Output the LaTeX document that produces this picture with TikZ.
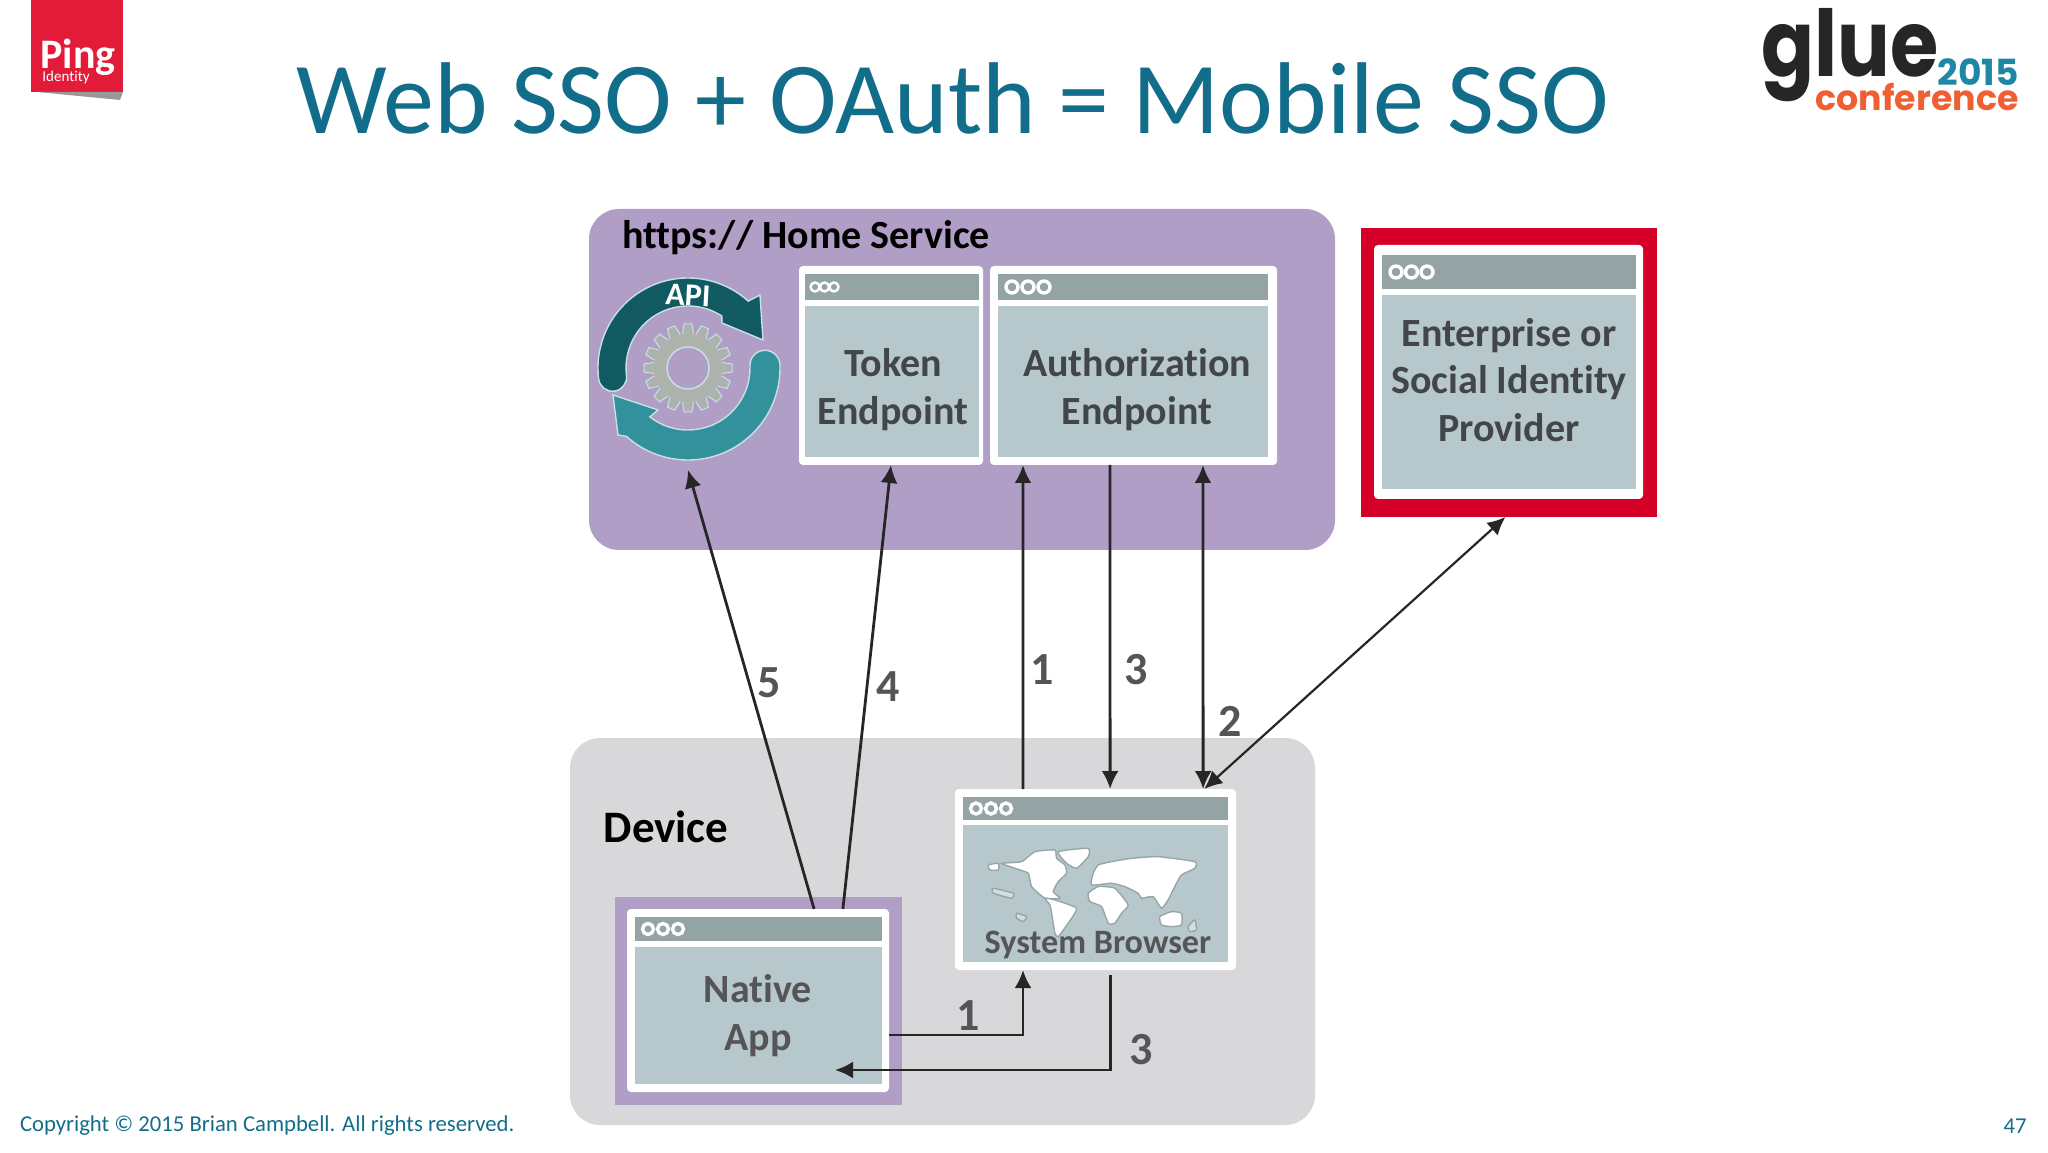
\documentclass[tikz,border=0pt]{standalone}
\usepackage{fontspec}
\setmainfont[Ligatures=CommonOff]{Carlito}
\newfontfamily\logofont{Poppins}
\usetikzlibrary{calc}
\usetikzlibrary{arrows.meta}
\tikzset{>={Latex[width=8.5pt,length=9pt]}}
\definecolor{titleblue}{RGB}{18,109,138}
\definecolor{homepurple}{RGB}{176,158,198}
\definecolor{devicegrey}{RGB}{216,215,218}
\definecolor{winbody}{RGB}{182,200,203}
\definecolor{winbar}{RGB}{148,163,163}
\definecolor{wintextgrey}{RGB}{66,70,74}
\definecolor{numgrey}{RGB}{85,85,88}
\definecolor{idpred}{RGB}{213,0,40}
\definecolor{pingred}{RGB}{226,28,56}
\definecolor{apidark}{RGB}{18,90,98}
\definecolor{apiteal}{RGB}{50,145,155}
\definecolor{apiedge}{RGB}{200,226,228}
\definecolor{geargrey}{RGB}{172,178,172}
\definecolor{mapedge}{RGB}{150,166,168}
\definecolor{gluered}{RGB}{240,95,50}
\definecolor{glueblue}{RGB}{30,135,165}
\tikzset{
  plain/.style={inner sep=0pt, outer sep=0pt},
  area/.style={plain, rounded corners=15pt},
  frame/.style={plain, fill=white, rounded corners=2pt},
  bar/.style={plain, fill=winbar},
  body/.style={plain, fill=winbody},
  windot/.style={fill=winbar, draw=white, line width=1.7pt},
  wintext/.style={plain, align=center, text=wintextgrey, font=\fontsize{20}{23.7}\selectfont\bfseries},
  num/.style={plain, text=numgrey, font=\fontsize{23}{24}\selectfont\bfseries},
  head/.style={plain, text=black, font=\fontsize{20}{22}\selectfont\bfseries},
  conn/.style={line width=1.4pt, draw=black!85},
  foot/.style={plain, text=titleblue, font=\fontsize{11.35}{13}\selectfont},
  mapland/.style={fill=white, draw=mapedge, line width=0.7pt},
  mapisle/.style={fill=winbody!60!white, draw=mapedge, line width=0.7pt}
}
\begin{document}
\begin{tikzpicture}[x=0.5pt, y=0.5pt]
  \useasboundingbox (0,0) rectangle (2048,1152);
  \node[plain, text=titleblue, font=\fontsize{51}{54}\selectfont] (title) at (953,1054) {Web SSO + OAuth = Mobile SSO};
  \node[plain, fill=pingred, minimum width=46pt, minimum height=46pt] (ping) at (77,1106) {};
  \fill[black!40] ($(ping.south west)+(6,0)$) -- ($(ping.south east)$) -- ++(-3,-8) -- cycle;
  \node[plain, text=white, font=\fontsize{21}{22}\selectfont\bfseries] (pingName) at (78,1095) {Ping};
  \node[plain, text=white, font=\fontsize{7.5}{8}\selectfont] (pingSub) at (66,1074) {Identity};
  \node[plain, text=black!85, xscale=0.85, font=\logofont\fontsize{46}{47}\selectfont\bfseries] (glue) at (1850,1097) {glue};
  \node[plain, text=glueblue, font=\logofont\fontsize{18}{19}\selectfont\bfseries] (glueYear) at (1978,1080) {2015};
  \node[plain, text=gluered, font=\logofont\fontsize{17.4}{18}\selectfont\bfseries] (glueConf) at (1917,1055) {conference};

  \node[area, fill=homepurple, minimum width=373pt, minimum height=170.5pt] (home) at (962,772.5) {};
  \node[area, fill=devicegrey, minimum width=372.5pt, minimum height=193.5pt] (device) at (942.5,220.5) {};
  \node[head] (homeLabel) at (806,914) {https:// Home Service};
  \node[head, font=\fontsize{22.5}{24}\selectfont\bfseries] (deviceLabel) at (666,325) {Device};

  \node[plain, circle, minimum size=102pt] (apiIcon) at (688,784) {};
  \begin{scope}[shift={(688,784)}]
    \foreach \a in {0,22.5,...,337.5}
      \filldraw[geargrey, draw=apiedge, line width=0.5pt, rotate=\a] (31,-6) -- (44,-4) -- (44,4) -- (31,6) -- cycle;
    \filldraw[geargrey, draw=geargrey, even odd rule] (0,0) circle (34) (0,0) circle (21);
    \draw[apiedge, line width=0.7pt] (0,0) circle (21);
    \filldraw[apidark, draw=apiedge, line width=0.7pt] (187:90) arc[start angle=187, end angle=48, radius=90] -- (72,73) -- (75,28) -- (34,45) -- (57:62) arc[start angle=57, end angle=187, radius=62] arc[start angle=7, end angle=-173, radius=14] -- cycle;
    \filldraw[apiteal, draw=apiedge, line width=0.7pt] (2:92) arc[start angle=2, end angle=-132, radius=92] -- (-70,-67) -- (-75,-27) -- (-30,-42) -- (-128:62) arc[start angle=-128, end angle=2, radius=62] arc[start angle=182, end angle=2, radius=15] -- cycle;
  \end{scope}
  \node[plain, text=white, rotate=-3, font=\fontsize{16}{17}\selectfont\bfseries] (api) at (688,857) {API};

  \node[frame, minimum width=92pt, minimum height=99.5pt] (token) at (891,786.5) {};
  \node[bar, minimum width=87pt, minimum height=13pt] (tokenBar) at (892,865) {};
  \node[body, minimum width=87pt, minimum height=75.5pt] (tokenBody) at (892,770.5) {};
  \foreach \k in {0,1,2}
    \draw[windot, line width=1.2pt] ($(tokenBar.west)+(10+9.5*\k,0)$) circle (4.5);
  \node[wintext] (tokenText) at (893,762.5) {Token\\Endpoint};

  \node[frame, minimum width=143.5pt, minimum height=99.5pt] (auth) at (1133.5,786.5) {};
  \node[bar, minimum width=135pt, minimum height=13pt] (authBar) at (1133,865) {};
  \node[body, minimum width=135pt, minimum height=75.5pt] (authBody) at (1133,770.5) {};
  \foreach \k in {0,1,2}
    \draw[windot] ($(authBar.west)+(14+16*\k,0)$) circle (6);
  \node[wintext] (authText) at (1137,762.5) {Authorization\\Endpoint};

  \node[plain, fill=idpred, minimum width=148pt, minimum height=144.5pt] (idp) at (1509,779.5) {};
  \node[frame, minimum width=134.5pt, minimum height=127pt] (idpFrame) at (1508.5,780) {};
  \node[bar, minimum width=127pt, minimum height=17pt] (idpBar) at (1509,880) {};
  \node[body, minimum width=127pt, minimum height=97pt] (idpBody) at (1509,760) {};
  \foreach \k in {0,1,2}
    \draw[windot] ($(idpBar.west)+(14+15.5*\k,0)$) circle (6);
  \node[wintext] (idpText) at (1509,772) {Enterprise or\\Social Identity\\Provider};

  \node[plain, fill=homepurple, minimum width=143.5pt, minimum height=104pt] (nativeBack) at (758.5,151) {};
  \node[frame, minimum width=131pt, minimum height=91.5pt] (native) at (758,151.5) {};
  \node[bar, minimum width=123.5pt, minimum height=12pt] (nativeBar) at (758.5,223) {};
  \node[body, minimum width=123.5pt, minimum height=68.5pt] (nativeBody) at (758.5,136.5) {};
  \foreach \k in {0,1,2}
    \draw[windot] ($(nativeBar.west)+(13+15*\k,0)$) circle (5.5);
  \node[wintext, text=numgrey] (nativeText) at (758,136.5) {Native\\App};

  \node[frame, minimum width=140.5pt, minimum height=90.5pt] (browser) at (1095.5,272.5) {};
  \node[bar, minimum width=132.5pt, minimum height=11.5pt] (browserBar) at (1095.5,343.5) {};
  \node[body, minimum width=132.5pt, minimum height=68.5pt] (browserBody) at (1095.5,258.5) {};
  \foreach \k in {0,1,2}
    \draw[windot] ($(browserBar.west)+(13+15*\k,0)$) circle (5.5);
  \begin{scope}[shift={(965,322)}, xscale=0.333, yscale=-0.333]
    \draw[mapland] plot[smooth cycle, tension=0.3] coordinates {(110,100) (170,95) (210,65) (270,60) (275,85) (300,105) (305,130) (280,155) (265,185) (285,205) (240,205) (200,170) (190,130) (150,115)};
    \draw[mapland] plot[smooth cycle, tension=0.3] coordinates {(70,105) (100,100) (100,120) (75,120)};
    \draw[mapland] plot[smooth cycle, tension=0.3] coordinates {(280,65) (370,55) (370,80) (335,115) (305,100)};
    \draw[mapland] plot[smooth cycle, tension=0.3] coordinates {(240,205) (270,210) (335,235) (310,280) (280,320) (270,310) (260,250) (255,225)};
    \draw[mapland] plot[smooth cycle, tension=0.3] coordinates {(400,105) (440,95) (500,85) (580,80) (690,95) (690,115) (650,135) (630,170) (610,210) (590,235) (565,200) (530,205) (520,190) (480,170) (440,160) (380,165) (385,130)};
    \draw[mapland] plot[smooth cycle, tension=0.3] coordinates {(370,190) (400,170) (450,175) (490,225) (470,250) (450,280) (430,280) (410,230) (375,215)};
    \draw[mapland] plot[smooth cycle, tension=0.3] coordinates {(585,260) (620,245) (650,250) (650,285) (620,290) (590,285)};
    \draw[mapisle] plot[smooth cycle, tension=0.3] coordinates {(85,175) (145,190) (140,205) (85,190)};
    \draw[mapisle] plot[smooth cycle, tension=0.3] coordinates {(155,250) (185,260) (175,275) (155,265)};
    \draw[mapisle] plot[smooth cycle, tension=0.3] coordinates {(670,290) (690,270) (695,300) (675,305)};
  \end{scope}
  \node[wintext, text=numgrey, font=\fontsize{17.1}{18}\selectfont\bfseries] (browserText) at (1098,207.5) {System Browser};

  \draw[conn, ->] ($(native.north west)!0.714!(native.north east)$) -- (apiIcon.south);
  \draw[conn, ->] ($(native.north west)!0.824!(native.north east)$) -- (token.south);
  \draw[conn, ->] ($(browser.north west)!0.242!(browser.north east)$) -- ($(auth.south west)!0.115!(auth.south east)$);
  \draw[conn, ->] ($(auth.south west)!0.418!(auth.south east)$) -- ($(browser.north west)!0.552!(browser.north east)$);
  \draw[conn, <->] ($(auth.south west)!0.742!(auth.south east)$) -- ($(browser.north west)!0.883!(browser.north east)$);
  \draw[conn, line width=1.1pt, <->] ($(browser.north west)!0.887!(browser.north east)$) -- ($(idp.south west)!0.488!(idp.south east)$);
  \draw[conn, ->] ($(native.south east)!0.311!(native.north east)$) -| ($(browser.south west)!0.242!(browser.south east)$);
  \coordinate (appReturn) at (835,82);
  \draw[conn, ->, shorten <=2.5pt] ($(browser.south west)!0.552!(browser.south east)$) |- (appReturn);

  \node[num] (numFive) at (769,469) {5};
  \node[num] (numFour) at (888,465) {4};
  \node[num] (numOne) at (1042,482) {1};
  \node[num] (numThree) at (1136,482) {3};
  \node[num] (numTwo) at (1230,431) {2};
  \node[num] (numOneLow) at (968,136) {1};
  \node[num] (numThreeLow) at (1141,102) {3};

  \node[foot, anchor=west] (copyright) at (20,26) {Copyright © 2015 Brian Campbell. All rights reserved.};
  \node[foot] (pageNum) at (2015,26) {47};
\end{tikzpicture}
\end{document}
